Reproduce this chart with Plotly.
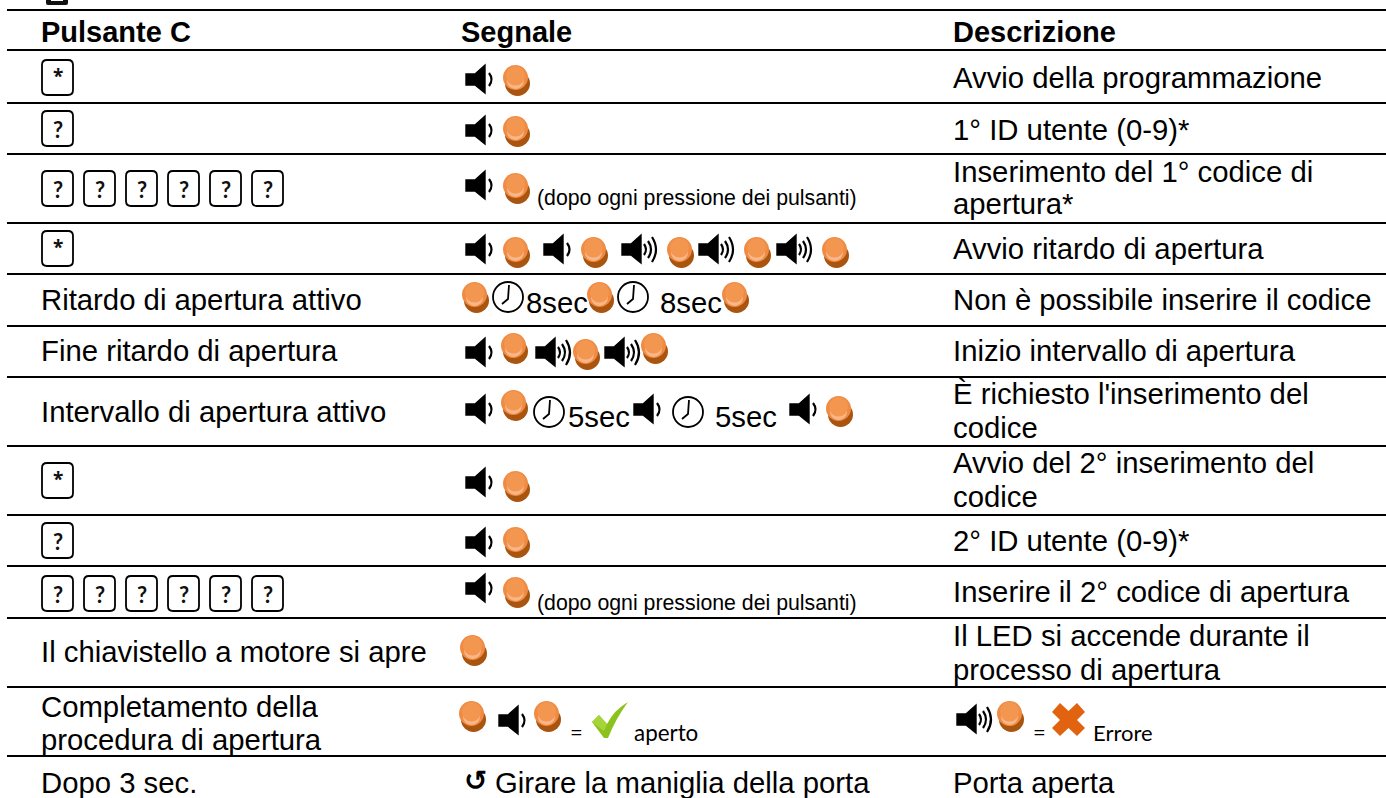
import plotly.graph_objects as go

# ---- table content ----
HEADERS = ["Pulsante C", "Segnale", "Descrizione"]
COL_BUTTON = [
    ["Ritardo di apertura attivo"], ["Fine ritardo di apertura"], ["Intervallo di apertura attivo"],
    ["Il chiavistello a motore si apre"], ["Completamento della", "procedura di apertura"], ["Dopo 3 sec."],
]
COL_BUTTON_Y = [299, 350, 411, 651, None, 782]
COL_DESC = [
    ["Avvio della programmazione"], ["1° ID utente (0-9)*"],
    ["Inserimento del 1° codice di", "apertura*"], ["Avvio ritardo di apertura"],
    ["Non è possibile inserire il codice"], ["Inizio intervallo di apertura"],
    ["È richiesto l'inserimento del", "codice"], ["Avvio del 2° inserimento del", "codice"],
    ["2° ID utente (0-9)*"], ["Inserire il 2° codice di apertura"],
    ["Il LED si accende durante il", "processo di apertura"], ["Porta aperta"],
]
DESC_Y = [[77], [129], [171, 203], [248], [299], [350], [393, 427], [462, 496], [540], [591], [635, 669], [782]]
NOTE_AFTER = "(dopo ogni pressione dei pulsanti)"
TURN = "Girare la maniglia della porta"
OPEN_OK = "aperto"
OPEN_ERR = "Errore"

# ---- layout of the drawing ----
RULES_Y = [10, 50, 103, 154, 223, 274, 326, 377, 446, 515, 566, 618, 687, 756]
KEYS = [  # (char, left, top)
    ("*", 42, 60), ("?", 42, 111),
    ("?", 42, 171), ("?", 84, 171), ("?", 126, 171), ("?", 168, 171), ("?", 210, 171), ("?", 252, 171),
    ("*", 42, 231), ("*", 42, 463), ("?", 42, 523),
    ("?", 42, 576), ("?", 84, 576), ("?", 126, 576), ("?", 168, 576), ("?", 210, 576), ("?", 252, 576),
]
SPK_SOFT = [(466, 65), (466, 116), (466, 171), (466, 235), (544, 235), (466, 338), (466, 395), (634, 395),
            (790, 395), (466, 468), (466, 528), (466, 574), (499, 706)]
SPK_LOUD = [(622, 235), (699, 235), (777, 235), (536, 338), (605, 338), (957, 705)]
LEDS = [(503, 65), (503, 116), (503, 173), (503, 237), (581, 237), (667, 237), (744, 237), (822, 237),
        (462, 282), (587, 282), (722, 282), (501, 333), (573, 339), (641, 333), (501, 390), (826, 396),
        (503, 471), (503, 527), (503, 577), (460, 635), (459, 701), (534, 701), (997, 701)]
CLOCKS = [(493, 282), (618, 282), (534, 397), (673, 397)]
SECS = [("8sec", 524.5, 302), ("8sec", 658.5, 302), ("5sec", 566.5, 416), ("5sec", 713.5, 416)]

FONT = "Liberation Sans"
BODY = 29.3
shapes, ann = [], []


def text(s, x, y, size=BODY, family=FONT, bold=False, anchor="left", color="#000"):
    ann.append(dict(x=x, y=y, xref="x", yref="y", text=f"<b>{s}</b>" if bold else s, showarrow=False,
                    xanchor=anchor, yanchor="middle", align="left", borderpad=0,
                    font=dict(family=family, size=size, color=color)))


def path(d, fill=None, line=None, w=0):
    shapes.append(dict(type="path", path=d, xref="x", yref="y", fillcolor=fill or "rgba(0,0,0,0)",
                       line=dict(color=line or "rgba(0,0,0,0)", width=w)))


def oval(x0, y0, x1, y1, fill=None, line=None, w=0):
    shapes.append(dict(type="circle", xref="x", yref="y", x0=x0, y0=y0, x1=x1, y1=y1,
                       fillcolor=fill or "rgba(0,0,0,0)", line=dict(color=line or "rgba(0,0,0,0)", width=w)))


def led(x, y):
    oval(x + 2, y + 6, x + 27, y + 31, "#A9540F")
    oval(x, y, x + 25, y + 25, "#EF8B43")
    oval(x + 4, y + 7, x + 21, y + 24, "#F9B789")
    oval(x + 3, y + 1, x + 22, y + 20.5, "#F39650")


def speaker(x, y, loud=False):
    path(f"M{x},{y+9} L{x+9},{y+9} L{x+19},{y} L{x+19},{y+28} L{x+9},{y+20} L{x},{y+20} Z", "#000", "#000", 1.4)
    arcs = [(22, 9, 20, 4), (26, 6, 23, 6), (30, 2, 27, 8)] if loud else [(23, 8, 21, 5)]
    for dx, a, b, bulge in arcs:
        path(f"M{x+dx},{y+a} Q{x+dx+bulge},{y+(a+b)/2} {x+dx},{y+b}", None, "#000", 2.2)


def clock(x, y):
    oval(x, y, x + 30, y + 30, None, "#000", 1.8)
    cx, cy = x + 15, y + 15
    path(f"M{cx+1},{y+3} L{cx},{cy+2} L{cx-6},{cy+7}", None, "#000", 1.8)


def key(ch, x, y):
    shapes.append(dict(type="path", xref="x", yref="y", fillcolor="#fff", line=dict(color="#000", width=1.8),
                       path=f"M{x+5},{y} L{x+26},{y} Q{x+31},{y} {x+31},{y+5} L{x+31},{y+30} Q{x+31},{y+35} {x+26},{y+35} "
                            f"L{x+5},{y+35} Q{x},{y+35} {x},{y+30} L{x},{y+5} Q{x},{y} {x+5},{y} Z"))
    if ch == "*":
        text(ch, x + 15.5, y + 16, size=19, family="Open Sans", bold=True, anchor="center", color="#111")
    else:
        text(ch, x + 15.5, y + 18, size=22, family="Lato", bold=True, anchor="center", color="#111")


for y in RULES_Y:
    shapes.append(dict(type="line", xref="x", yref="y", x0=7, x1=1386, y0=y, y1=y, line=dict(color="#000", width=2)))

# clipped icon at the very top
path("M46,-6 L68,-6 L68,3 Q68,5 66,5 L48,5 Q46,5 46,3 Z", "#111")
path("M51,-6 L63,-6 L63,1 L51,1 Z", "#fff")

for i, h in enumerate(HEADERS):
    text(h, [40, 460, 951.5][i], 31.5, size=29, bold=True)

for lines, y in zip(COL_BUTTON, COL_BUTTON_Y):
    if y is not None:
        text(lines[0], 40, y)
text(COL_BUTTON[4][0], 40, 706)
text(COL_BUTTON[4][1], 40, 739)

for lines, ys in zip(COL_DESC, DESC_Y):
    for s, y in zip(lines, ys):
        text(s, 951.5, y)

for c, x, y in KEYS:
    key(c, x, y)
for x, y in SPK_SOFT:
    speaker(x, y)
for x, y in SPK_LOUD:
    speaker(x, y, True)
for x, y in LEDS:
    led(x, y)
for x, y in CLOCKS:
    clock(x, y)
for s, x, y in SECS:
    text(s, x, y)

text(NOTE_AFTER, 535.5, 198, size=21.3)
text(NOTE_AFTER, 535.5, 603, size=21.3)
text("=", 569, 731, size=22, family="Lato")
text(OPEN_OK, 633, 732, size=22.4, family="Lato")
text("=", 1032, 731, size=22, family="Lato")
text(OPEN_ERR, 1092, 732, size=22, family="Lato")
text("↺", 463, 780.5, size=28, family="DejaVu Sans", bold=True)
text(TURN, 494, 782)

# check mark
path("M592,722 L599,715 L607,724 Q614,710 628,702 Q616,718 608,738 L604,738 Z", "#8CC21C")
path("M592,722 L599,715 L607,724 L604,731 Z", "#A6D53A")
# cross
path("M1052,712 L1060,703 L1068.5,711 L1077,703 L1085,712 L1077,720 L1085,728 L1077,736 L1068.5,728 L1060,736 L1052,728 L1060,720 Z", "#E2630F")

fig = go.Figure()
fig.update_layout(
    width=1386, height=798, margin=dict(l=0, r=0, t=0, b=0), paper_bgcolor="#fff", plot_bgcolor="#fff",
    showlegend=False, shapes=shapes, annotations=ann,
    xaxis=dict(range=[0, 1386], visible=False, fixedrange=True),
    yaxis=dict(range=[798, 0], visible=False, fixedrange=True),
)
fig.write_html("out.html", config={"displayModeBar": False},
               post_script="document.body.style.margin='0';document.body.style.overflow='hidden';")
